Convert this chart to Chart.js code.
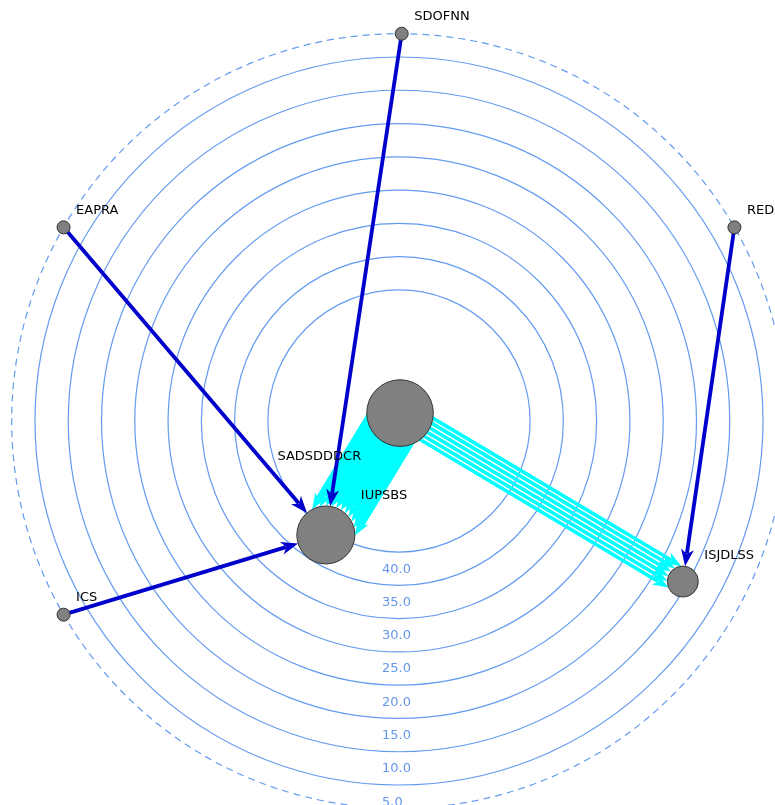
<!DOCTYPE html>
<html><head><meta charset="utf-8">
<script src="https://cdn.jsdelivr.net/npm/chart.js@4/dist/chart.umd.min.js"></script>
<style>html,body{margin:0;padding:0;background:#fff;overflow:hidden;} canvas{display:block;}</style>
</head><body>
<canvas id="c" width="775" height="805"></canvas>
<script>
// ---- data ----
const ringValues = [40, 35, 30, 25, 20, 15, 10, 5];
const ringLabels = ['40.0', '35.0', '30.0', '25.0', '20.0', '15.0', '10.0', '5.0'];
const outerRingValue = 1.5;
const scaleMin = 3.2;
const scaleMax = 59.7;

const nodeNames  = ['', 'IUPSBS', 'SADSDDDCR', 'ISJDLSS', 'SDOFNN', 'EAPRA', 'RED', 'ICS'];
const nodeValues = [58.5, 39.35, 39.3, 10.7, 1.5, 1.5, 1.5, 1.5];
const nodeAngles = [7.4, 212.7, 250, 119.5, 0.4, 300, 60, 240];
const nodeWeight = [33.3, 29, 0, 15.5, 6.5, 6.5, 6.5, 6.5];

const edgeFrom  = [0, 0, 4, 5, 7, 6];
const edgeTo    = [1, 3, 1, 1, 1, 3];
const edgeCount = [11, 6, 1, 1, 1, 1];
const edgeKind  = ['flow', 'flow', 'link', 'link', 'link', 'link'];
const edgeHeavy = [true, false, false, false, false, false];

// ---- styles ----
const ringColor = 'rgb(100,155,240)';
const tickColor = 'rgb(100,150,235)';
const edgeStyles = {
  flow: { color: '#00ffff', width: 3.6, heavyWidth: 6, spacing: 5, headL: 16, headW: 12 },
  link: { color: '#0000cc', width: 3.8, heavyWidth: 3.8, spacing: 5, headL: 17, headW: 13 }
};

function drawHead(ctx, tip, u, L, W) {
  const nx = -u.y, ny = u.x;
  ctx.beginPath();
  ctx.moveTo(tip.x, tip.y);
  ctx.lineTo(tip.x - u.x * L + nx * W / 2, tip.y - u.y * L + ny * W / 2);
  ctx.lineTo(tip.x - u.x * L * 0.72, tip.y - u.y * L * 0.72);
  ctx.lineTo(tip.x - u.x * L - nx * W / 2, tip.y - u.y * L - ny * W / 2);
  ctx.closePath();
  ctx.fill();
}

const graphPlugin = {
  id: 'graph',
  afterDraw(chart) {
    const s = chart.scales.r;
    const ctx = chart.ctx;
    const pos = i => {
      const d = s.getDistanceFromCenterForValue(nodeValues[i]);
      const a = nodeAngles[i] * Math.PI / 180;
      return { x: s.xCenter + d * Math.sin(a), y: s.yCenter - d * Math.cos(a) };
    };
    ctx.save();
    // tick labels
    ctx.font = '13px "DejaVu Sans"';
    ctx.fillStyle = tickColor;
    ctx.textAlign = 'left';
    ctx.textBaseline = 'middle';
    ringValues.forEach((v, i) => {
      const d = s.getDistanceFromCenterForValue(v - 2.5);
      ctx.fillText(ringLabels[i], s.xCenter - 17, s.yCenter + d + 0.5);
    });
    // edges: flows first, then links
    ['flow', 'link'].forEach(kind => {
      edgeFrom.forEach((f, e) => {
        if (edgeKind[e] !== kind) return;
        const st = edgeStyles[kind];
        const S = pos(f), T = pos(edgeTo[e]);
        const R = nodeWeight[edgeTo[e]];
        const dx = T.x - S.x, dy = T.y - S.y, len = Math.hypot(dx, dy);
        const u = { x: dx / len, y: dy / len };
        const n = { x: -u.y, y: u.x };
        const n0 = edgeCount[e];
        ctx.strokeStyle = st.color;
        ctx.fillStyle = st.color;
        ctx.lineWidth = edgeHeavy[e] ? st.heavyWidth : st.width;
        ctx.lineCap = 'butt';
        for (let k = 0; k < n0; k++) {
          const off = (k - (n0 - 1) / 2) * st.spacing;
          const a = { x: S.x + n.x * off, y: S.y + n.y * off };
          const w = { x: a.x - T.x, y: a.y - T.y };
          const b = w.x * u.x + w.y * u.y;
          const c = w.x * w.x + w.y * w.y - R * R;
          const disc = b * b - c;
          const t = disc >= 0 ? -b - Math.sqrt(disc) : -b;
          const tip = { x: a.x + u.x * t, y: a.y + u.y * t };
          ctx.beginPath();
          ctx.moveTo(a.x, a.y);
          ctx.lineTo(tip.x - u.x * st.headL * 0.75, tip.y - u.y * st.headL * 0.75);
          ctx.stroke();
          drawHead(ctx, tip, u, st.headL, st.headW);
        }
      });
    });
    // nodes
    nodeNames.forEach((nm, i) => {
      const r = nodeWeight[i];
      if (r <= 0) return;
      const p = pos(i);
      ctx.beginPath();
      ctx.arc(p.x, p.y, r, 0, Math.PI * 2);
      ctx.fillStyle = '#808080';
      ctx.fill();
      ctx.lineWidth = 1;
      ctx.strokeStyle = '#333333';
      ctx.stroke();
    });
    // node labels
    ctx.font = '13px "DejaVu Sans"';
    ctx.fillStyle = '#000';
    ctx.textAlign = 'left';
    ctx.textBaseline = 'middle';
    nodeNames.forEach((nm, i) => {
      if (!nm) return;
      const p = pos(i);
      const r = nodeWeight[i];
      ctx.fillText(nm, p.x + r + 6, p.y - r - 10.5);
    });
    ctx.restore();
  }
};

new Chart(document.getElementById('c'), {
  type: 'radar',
  data: { labels: [''], datasets: [] },
  options: {
    responsive: false,
    devicePixelRatio: 1,
    animation: false,
    layout: { padding: { left: 23, right: 0, top: 37, bottom: 0 } },
    plugins: { legend: { display: false }, tooltip: { enabled: false }, title: { display: false } },
    scales: {
      r: {
        min: scaleMin,
        max: scaleMax,
        bounds: 'data',
        reverse: true,
        angleLines: { display: false },
        pointLabels: { display: false },
        ticks: { display: false },
        grid: { circular: true, color: ringColor, lineWidth: 1.2 },
        border: { dash: (c) => (c.tick && c.tick.value === outerRingValue) ? [7, 5] : [] },
        afterBuildTicks: (scale) => {
          scale.ticks = [scaleMax, outerRingValue].concat(ringValues).map(v => ({ value: v }));
        },
        afterFit: (scale) => {
          scale.xCenter = Math.round(scale.left + scale.width / 2);
          scale.yCenter = Math.round(scale.top + scale.height / 2);
          scale.drawingArea = Math.min(scale.width, scale.height) / 2;
        }
      }
    }
  },
  plugins: [graphPlugin]
});
</script>
</body></html>
